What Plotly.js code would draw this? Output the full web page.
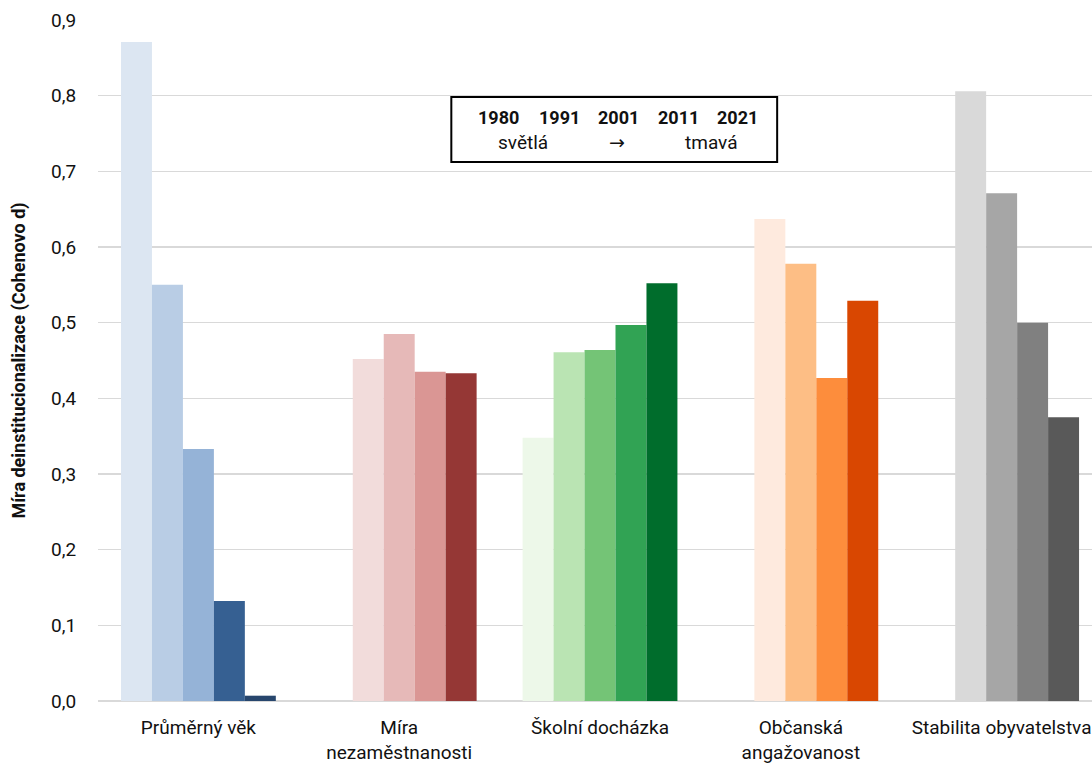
<!DOCTYPE html>
<html>
<head>
<meta charset="utf-8">
<script src="https://cdn.plot.ly/plotly-3.0.1.min.js"></script>
<style>html,body{margin:0;padding:0;overflow:hidden;background:#fff}#chart{width:1092px;height:763px}</style>
</head>
<body>
<div id="chart"></div>
<script>
const categories = ['Průměrný věk', 'Míra<br>nezaměstnanosti', 'Školní docházka', 'Občanská<br>angažovanost', 'Stabilita obyvatelstva'];
const years = ['1980', '1991', '2001', '2011', '2021'];
const v1980 = [0.871, null, 0.348, null, null];
const v1991 = [0.550, 0.452, 0.461, 0.637, 0.806];
const v2001 = [0.333, 0.485, 0.464, 0.578, 0.671];
const v2011 = [0.132, 0.435, 0.497, 0.427, 0.500];
const v2021 = [0.007, 0.433, 0.552, 0.529, 0.375];
const seriesValues = [v1980, v1991, v2001, v2011, v2021];
// colours per year (rows) per category (columns)
const colors1980 = ['#dce6f2', '#f2dcdb', '#edf8e9', '#feedde', '#d9d9d9'];
const colors1991 = ['#b9cde5', '#f2dcdb', '#bae4b3', '#feeade', '#d9d9d9'];
const colors2001 = ['#95b3d7', '#e6b9b8', '#74c476', '#fdbe85', '#a6a6a6'];
const colors2011 = ['#366092', '#da9694', '#31a354', '#fd8d3c', '#808080'];
const colors2021 = ['#27466d', '#953735', '#006d2c', '#d94701', '#595959'];
const seriesColors = [colors1980, colors1991, colors2001, colors2011, colors2021];
const legendTop = ['1980', '1991', '2001', '2011', '2021'];
const legendBottom = ['světlá', '→', 'tmavá'];

const FONT = 'Roboto, "DejaVu Sans", sans-serif';

const traces = years.map((y, i) => ({
  type: 'bar',
  name: y,
  x: categories,
  y: seriesValues[i],
  marker: {color: seriesColors[i], line: {width: 0}},
  hoverinfo: 'x+y+name'
}));

const W = 1092, H = 763;
const L = 97.5, T = 20, B = 62, R = 0;
const pw = W - L - R, ph = H - T - B;
const px = (x) => (x - L) / pw;
const py = (y) => 1 - (y - T) / ph;

const annotations = [];
const topX = [498, 559, 618, 678, 737];
legendTop.forEach((t, i) => annotations.push({
  xref: 'paper', yref: 'paper', x: px(topX[i]), y: py(117), text: '<b>' + t + '</b>',
  showarrow: false, xanchor: 'center', yanchor: 'middle',
  font: {family: FONT, size: 18, color: '#111'}
}));
const botX = [523, 617, 711];
legendBottom.forEach((t, i) => annotations.push({
  xref: 'paper', yref: 'paper', x: px(botX[i]), y: py(143), text: t,
  showarrow: false, xanchor: 'center', yanchor: 'middle',
  font: {family: FONT, size: 19, color: '#111'}
}));

const layout = {
  width: W, height: H,
  margin: {l: L, r: R, t: T, b: B, pad: 0},
  paper_bgcolor: '#fff', plot_bgcolor: '#fff',
  barmode: 'group', bargap: 0.229, bargroupgap: 0,
  showlegend: false,
  separators: ', ',
  font: {family: FONT, color: '#111'},
  xaxis: {
    type: 'category', range: [-0.5, 4.45],
    showgrid: false, showline: false, zeroline: false, ticks: '',
    tickfont: {family: FONT, size: 19, color: '#111'},
    ticklabelstandoff: 13,
    automargin: false
  },
  yaxis: {
    range: [0, 0.9], dtick: 0.1, tick0: 0, tickformat: '.1f',
    showgrid: true, gridcolor: '#d9d9d9', gridwidth: 1.3,
    zeroline: true, zerolinecolor: '#d9d9d9', zerolinewidth: 1.3,
    showline: false, ticks: 'outside', ticklen: 17, tickcolor: 'rgba(0,0,0,0)',
    tickfont: {family: FONT, size: 19, color: '#111'},
    title: {text: '<b>Míra deinstitucionalizace (Cohenovo d)</b>', font: {family: FONT, size: 18, color: '#111'}, standoff: 20},
    automargin: false
  },
  shapes: [{
    type: 'rect', xref: 'paper', yref: 'paper',
    x0: px(451), x1: px(777), y0: py(97), y1: py(162),
    line: {color: '#000', width: 2}, fillcolor: 'rgba(0,0,0,0)'
  }],
  annotations: annotations
};

Plotly.newPlot('chart', traces, layout, {displayModeBar: false, staticPlot: true});
</script>
</body>
</html>
